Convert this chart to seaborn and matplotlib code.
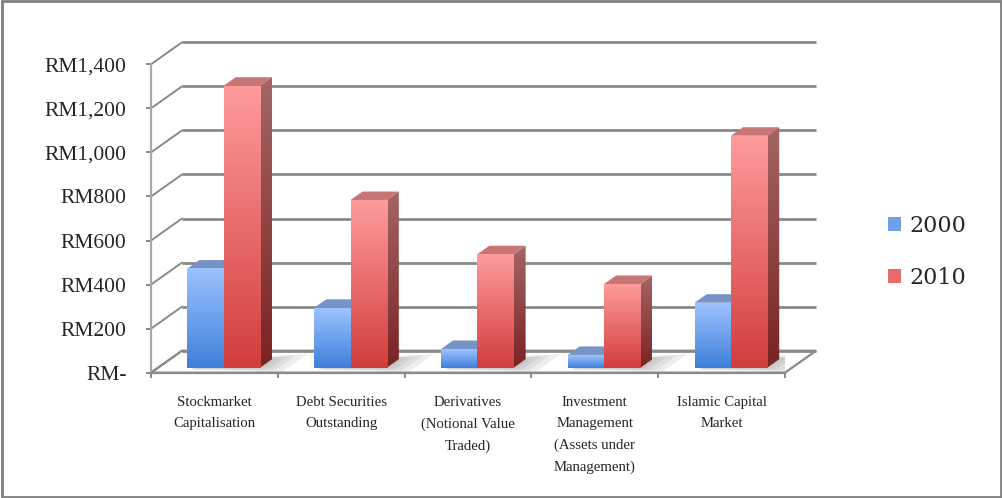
import numpy as np
import pandas as pd
import matplotlib
matplotlib.use("Agg")
import matplotlib.pyplot as plt
from matplotlib.colors import LinearSegmentedColormap
from matplotlib.patches import Polygon, Patch, Rectangle
import seaborn as sns

# data (RM billion)
categories = ["Stockmarket\nCapitalisation", "Debt Securities\nOutstanding",
              "Derivatives\n(Notional Value\nTraded)",
              "Investment\nManagement\n(Assets under\nManagement)",
              "Islamic Capital\nMarket"]
years = ["2000", "2010"]
values_2000 = [450, 272, 85, 58, 295]
values_2010 = [1280, 761, 515, 380, 1053]
y_ticks = [0, 200, 400, 600, 800, 1000, 1200, 1400]
y_tick_labels = ["RM-", "RM200", "RM400", "RM600", "RM800", "RM1,000", "RM1,200", "RM1,400"]

df = pd.DataFrame({
    "category": categories * 2,
    "year": [years[0]] * 5 + [years[1]] * 5,
    "value": values_2000 + values_2010,
})

sns.set_style("white")
plt.rcParams["font.family"] = ["Liberation Serif", "DejaVu Serif"]

W, H = 1003, 498
fig = plt.figure(figsize=(W / 100, H / 100), dpi=100)
# front plane of the 3D box, in pixels
left_px, right_px, bottom_px, top_px = 151, 785, 372.7, 64.3
ax = fig.add_axes([left_px / W, 1 - bottom_px / H,
                   (right_px - left_px) / W, (bottom_px - top_px) / H])

sns.barplot(data=df, x="category", y="value", hue="year", width=0.573,
            palette=["#6fa0ec", "#e86a6a"], ax=ax, legend=False, saturation=1)
bars = list(ax.patches)

XMIN, XMAX, YMAX = -0.5, 4.5, 1400
ux = (XMAX - XMIN) / (right_px - left_px)   # data per pixel
uy = YMAX / (bottom_px - top_px)

# depth offsets in pixels
DX, DY = 31, 22          # back wall
BX, BY = 9.3, 5          # bar front plane
TX, TY = 12, 8.5         # bar depth

grid_col = "#8a8a8a"
z = [2.0]

def nz():
    z[0] += 0.01
    return z[0]

# floor
floor = Polygon([(XMIN, 0), (XMAX, 0), (XMAX + DX * ux, DY * uy), (XMIN + DX * ux, DY * uy)],
                closed=True, facecolor="white", edgecolor=grid_col, lw=1.6, zorder=0.4, clip_on=False)
ax.add_patch(floor)

# back wall gridlines and left wall diagonals
for v in y_ticks:
    ax.plot([XMIN + DX * ux, XMAX + DX * ux], [v + DY * uy] * 2, color=grid_col, lw=2,
            zorder=0.5, clip_on=False, solid_capstyle="butt")
    ax.plot([XMIN, XMIN + DX * ux], [v, v + DY * uy], color=grid_col, lw=1.4,
            zorder=0.5, clip_on=False)

face_cols = {0: ("#3f7fd9", "#9cc3ff"), 1: ("#d23d3d", "#ff9b9b")}
side_cols = {0: ("#2c5fa8", "#7090c8"), 1: ("#7a2222", "#a46666")}
top_cols = {0: "#7794c6", 1: "#c77575"}
grad = np.linspace(0, 1, 256).reshape(-1, 1)

by = BY * uy
dx, dy = TX * ux, TY * uy

# soft floor shadow under each group of bars
groups = {}
for p in bars:
    k = int(round(p.get_x() + p.get_width() / 2 + 0.3))
    lo, hi = groups.get(k, (np.inf, -np.inf))
    groups[k] = (min(lo, p.get_x()), max(hi, p.get_x() + p.get_width()))
for k, (gx0, gx1) in groups.items():
    gx0 += BX * ux
    gx1 += BX * ux
    for s in [22, 15, 9, 4]:
        sh = Polygon([(gx0 + 4 * ux, by - 0.4 * s * uy / 4), (gx1 + s * ux, by - s * uy / 5),
                      (gx1 + dx + 1.6 * s * ux, by + dy + s * uy / 4), (gx0 + dx + s * ux, by + dy)],
                     closed=True, facecolor="#808080", alpha=0.13, edgecolor="none", zorder=0.45)
        ax.add_patch(sh)

# draw in order left to right so red covers blue's depth faces
order = sorted(range(len(bars)), key=lambda i: bars[i].get_x())
for i in order:
    p = bars[i]
    hue = i // len(categories)
    x0 = p.get_x() + BX * ux
    w = p.get_width()
    h = p.get_height()
    x1 = x0 + w
    p.set_visible(False)

    # side face
    side = Polygon([(x1, by), (x1 + dx, by + dy), (x1 + dx, by + h + dy), (x1, by + h)],
                   closed=True, facecolor="none", edgecolor="none", transform=ax.transData)
    ax.add_patch(side)
    im = ax.imshow(grad, extent=(x1, x1 + dx, by, by + h + dy), origin="lower", aspect="auto",
                   cmap=LinearSegmentedColormap.from_list("s", side_cols[hue]), zorder=nz())
    im.set_clip_path(side)

    # top face
    top = Polygon([(x0, by + h), (x1, by + h), (x1 + dx, by + h + dy), (x0 + dx, by + h + dy)],
                  closed=True, facecolor=top_cols[hue], edgecolor="none", zorder=nz())
    ax.add_patch(top)

    # front face
    ax.imshow(grad, extent=(x0, x1, by, by + h), origin="lower", aspect="auto",
              cmap=LinearSegmentedColormap.from_list("f", face_cols[hue]), zorder=nz())

ax.set_xlim(XMIN, XMAX)
ax.set_ylim(0, YMAX)
ax.set_aspect("auto")

# axes, ticks and labels
for s in ["top", "right"]:
    ax.spines[s].set_visible(False)
for s in ["left", "bottom"]:
    ax.spines[s].set_color(grid_col)
    ax.spines[s].set_linewidth(1.6)
ax.spines["left"].set_color("#a8a8a8")

ax.set_yticks(y_ticks)
ax.set_yticklabels(y_tick_labels, fontsize=15.5)
ax.tick_params(axis="y", direction="out", length=3.6, width=1.4, color=grid_col, pad=14, left=True)
ax.set_xticks(range(len(categories)))
ax.set_xticklabels(categories, fontsize=10.6, linespacing=1.8, va="top")
ax.tick_params(axis="x", which="major", length=0, pad=17)
ax.set_xticks(np.arange(XMIN, XMAX + 0.01, 1), minor=True)
ax.tick_params(axis="x", which="minor", direction="out", length=3.6, width=1.4, color=grid_col, bottom=True)
ax.set_xlabel("")
ax.set_ylabel("")
ax.grid(False)

# legend
handles = [Patch(facecolor="#6fa0ec", edgecolor="none"), Patch(facecolor="#e86a6a", edgecolor="none")]
fig.legend(handles, years, loc="center left", bbox_to_anchor=(888 / W, 1 - 252 / H),
           frameon=False, prop={"family": "DejaVu Serif", "size": 16},
           handlelength=0.6, handleheight=0.6, handletextpad=0.35, labelspacing=1.35,
           borderpad=0, borderaxespad=0)

# outer frame
fig.patches.append(Rectangle((1.5 / W, 1.5 / H), 1 - 3 / W, 1 - 3 / H, transform=fig.transFigure,
                             fill=False, edgecolor="#808080", lw=2))

fig.savefig("out.png", dpi=100)
